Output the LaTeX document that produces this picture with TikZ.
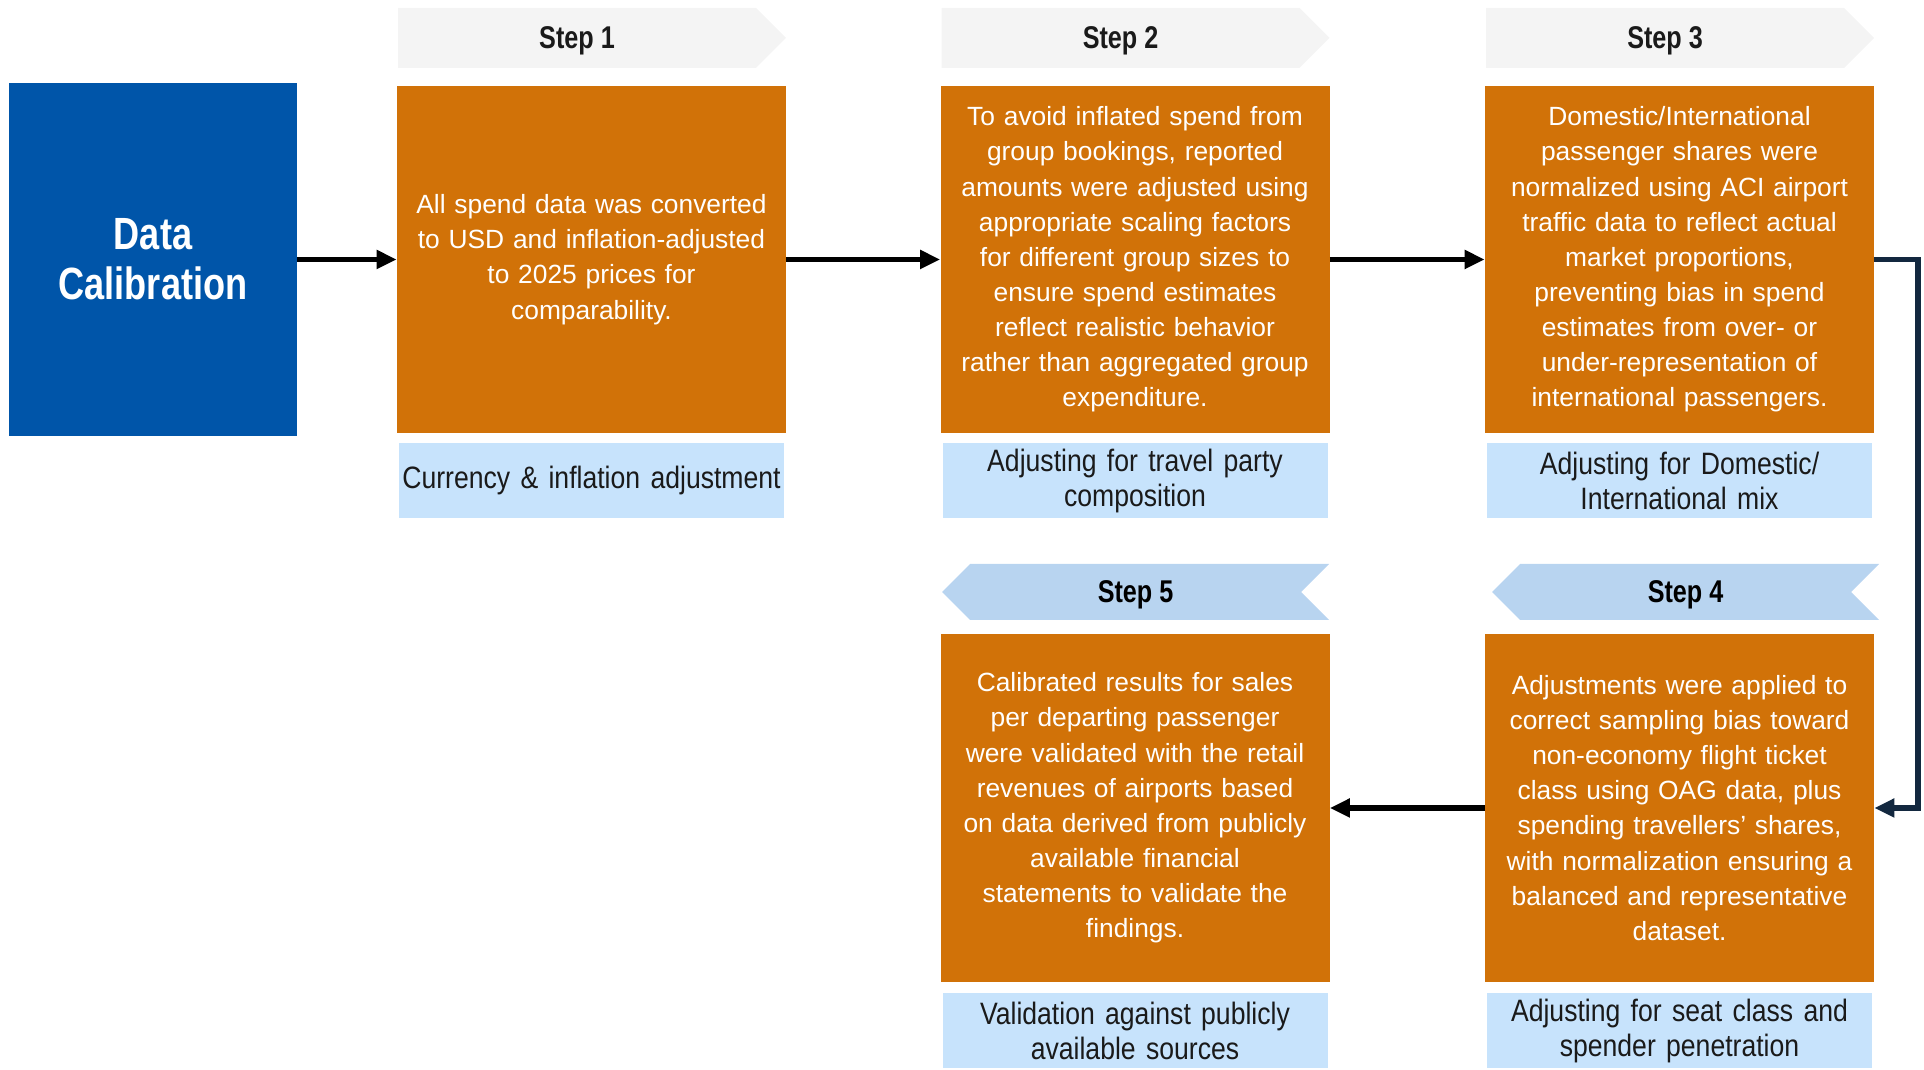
\documentclass[tikz,border=0pt]{standalone}
\usepackage{fontspec}
\setmainfont{Liberation Sans}
\newfontfamily\condfont{Liberation Sans}[FakeStretch=0.8]
\newfontfamily\tagfont{Liberation Sans}[FakeStretch=0.86]
\usepackage{xcolor}
\usetikzlibrary{arrows.meta, positioning, shapes.symbols}
\definecolor{calblue}{HTML}{0055A9}
\definecolor{steporange}{HTML}{D17208}
\definecolor{taglight}{HTML}{C7E3FC}
\definecolor{tabblue}{HTML}{B8D4F0}
\definecolor{tabgray}{HTML}{F4F4F4}
\definecolor{linknavy}{HTML}{13283F}
\definecolor{inkgray}{HTML}{1A1A1A}

\begin{document}
\begin{tikzpicture}[
  calbox/.style={rectangle, fill=calblue, text=white,
                 minimum width=5.76cm, minimum height=7.06cm, align=center,
                 font=\condfont\bfseries\fontsize{25.7}{28.5}\selectfont},
  stepbox/.style={rectangle, fill=steporange, text=white,
                  text width=7.4cm, inner xsep=0.19cm, minimum height=6.95cm,
                  align=center, font=\fontsize{15.0}{20.0}\selectfont},
  tagbox/.style={rectangle, fill=taglight, text=inkgray,
                 text width=7.6cm, inner xsep=0.05cm, inner ysep=0pt,
                 minimum height=1.5cm, align=center,
                 font=\tagfont\fontsize{17.6}{19.6}\selectfont},
  fwdtab/.style={signal, signal to=east, signal pointer angle=90,
                 fill=tabgray, inner sep=0pt, text depth=0pt,
                 minimum width=7.76cm, minimum height=1.2cm, text=inkgray,
                 font=\condfont\bfseries\fontsize{17.9}{20}\selectfont},
  backtab/.style={signal, signal to=west, signal from=east,
                  signal pointer angle=90, fill=tabblue, inner sep=0pt,
                  text depth=0pt,
                  minimum width=7.74cm, minimum height=1.12cm, text=black,
                  font=\condfont\bfseries\fontsize{17.9}{20}\selectfont},
  flow/.style={-{Triangle[length=4mm, width=3.6mm]}, line width=3pt,
               draw=black}
]

% === Canvas (1924 x 1070 px at 50 px per cm) ===
\useasboundingbox (0, 0) rectangle (38.48, 21.4);

% === Start block ===
\node[calbox] (cal) at (3.06, 16.21) {Data\\Calibration};

% === Top row: steps 1-3 ===
% Columns centred at x = 11.83, 22.70, 33.59 (box width 7.78);
% the tab shape sits a little to the right of its anchor, hence -0.29
\node[fwdtab] (tab1) at (11.54, 20.64) {Step 1};
\node[fwdtab] (tab2) at (22.41, 20.64) {Step 2};
\node[fwdtab] (tab3) at (33.30, 20.64) {Step 3};

\node[stepbox] (s1) at (11.83, 16.21)
  {All spend data was converted\\
   to USD and inflation-adjusted\\
   to 2025 prices for\\
   comparability.};
\node[stepbox] (s2) at (22.70, 16.21)
  {To avoid inflated spend from\\
   group bookings, reported\\
   amounts were adjusted using\\
   appropriate scaling factors\\
   for different group sizes to\\
   ensure spend estimates\\
   reflect realistic behavior\\
   rather than aggregated group\\
   expenditure.};
\node[stepbox] (s3) at (33.59, 16.21)
  {Domestic/International\\
   passenger shares were\\
   normalized using ACI airport\\
   traffic data to reflect actual\\
   market proportions,\\
   preventing bias in spend\\
   estimates from over- or\\
   under-representation of\\
   international passengers.};

\node[tagbox] (t1) at (11.83, 11.78) {Currency \& inflation adjustment};
\node[tagbox] (t2) at (22.70, 11.78) {Adjusting for travel party\\ composition};
\node[tagbox] (t3) at (33.59, 11.78) {Adjusting for Domestic/\\ International mix};

% === Bottom row: steps 5 and 4 (flow runs right to left) ===
\node[backtab] (tab5) at (22.71, 9.56) {Step 5};
\node[backtab] (tab4) at (33.71, 9.56) {Step 4};

\node[stepbox] (s5) at (22.70, 5.24)
  {Calibrated results for sales\\
   per departing passenger\\
   were validated with the retail\\
   revenues of airports based\\
   on data derived from publicly\\
   available financial\\
   statements to validate the\\
   findings.};
\node[stepbox] (s4) at (33.59, 5.24)
  {Adjustments were applied to\\
   correct sampling bias toward\\
   non-economy flight ticket\\
   class using OAG data, plus\\
   spending travellers' shares,\\
   with normalization ensuring a\\
   balanced and representative\\
   dataset.};

\node[tagbox] (t5) at (22.70, 0.78) {Validation against publicly\\ available sources};
\node[tagbox] (t4) at (33.59, 0.78) {Adjusting for seat class and\\ spender penetration};

% === Connectors ===
\coordinate (turn) at (38.36, 16.21);
\draw[flow] (cal) -- (s1);
\draw[flow] (s1) -- (s2);
\draw[flow] (s2) -- (s3);
\draw[flow, draw=linknavy] (s3.east) -- (turn) |- (s4.east);
\draw[flow] (s4) -- (s5);

\end{tikzpicture}
\end{document}
